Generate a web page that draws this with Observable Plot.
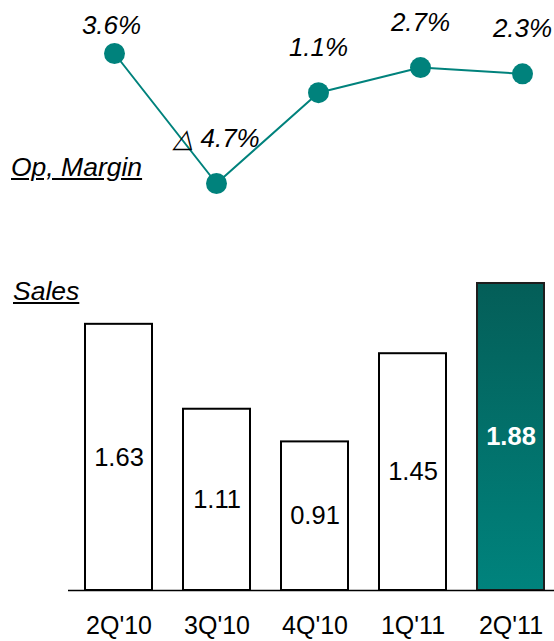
<!DOCTYPE html>
<html><head><meta charset="utf-8">
<script src="https://cdn.jsdelivr.net/npm/d3@7"></script>
<script src="https://cdn.jsdelivr.net/npm/@observablehq/plot@0.6"></script>
<style>
body{margin:0;background:#fff;}
#wrap{position:relative;width:554px;height:641px;overflow:hidden;font-family:"Liberation Sans",Arial,sans-serif;background:#fff;}
#wrap svg{position:absolute;left:0;top:0;}
.ttl{position:absolute;font-style:italic;font-size:26.5px;text-decoration:underline;color:#000;line-height:1;white-space:nowrap;}
</style></head><body>
<div id="wrap">
  <div class="ttl" style="left:11px;top:154px;">Op, Margin</div>
  <div class="ttl" style="left:13px;top:278px;">Sales</div>
</div>
<script>
const quarters = ["2Q'10", "3Q'10", "4Q'10", "1Q'11", "2Q'11"];
const sales = [1.63, 1.11, 0.91, 1.45, 1.88];
const opMargin = [3.6, -4.7, 1.1, 2.7, 2.3];
const highlight = "2Q'11";

const teal = "#00827c";
const font = "'Liberation Sans', Arial, sans-serif";

const salesData = quarters.map((q, i) => ({q, s: sales[i]}));
const marginData = quarters.map((q, i) => ({q, m: opMargin[i]}));
const fmtMargin = d => (d.m < 0 ? "\u25B3 " : "") + Math.abs(d.m).toFixed(1) + "%";

const wrap = document.getElementById("wrap");

// Bar chart (Sales)
const bars = Plot.plot({
  width: 554, height: 641,
  marginLeft: 68, marginRight: 0, marginTop: 0, marginBottom: 51,
  style: {fontFamily: font, fontSize: "25px", background: "transparent", color: "#000", overflow: "visible"},
  x: {domain: quarters, range: [68, 560], paddingInner: 0.32, paddingOuter: 0.16, axis: null},
  y: {domain: [0, 2], range: [590, 590 - 2 * 163.3], axis: null},
  marks: [
    Plot.barY(salesData.filter(d => d.q !== highlight), {x: "q", y: "s", fill: "white", stroke: "#000", strokeWidth: 2}),
    Plot.barY(salesData.filter(d => d.q === highlight), {x: "q", y: "s", fill: "url(#salesgrad)", stroke: "#1e1e1e", strokeWidth: 2}),
    Plot.ruleY([0], {stroke: "#000", strokeWidth: 1.5}),
    Plot.text(salesData.filter(d => d.q !== highlight), {x: "q", y: d => d.s / 2, text: d => d.s.toFixed(2), fontSize: 25.5, fill: "#000"}),
    Plot.text(salesData.filter(d => d.q === highlight), {x: "q", y: d => d.s / 2, text: d => d.s.toFixed(2), fontSize: 25.5, fontWeight: "bold", fill: "white"}),
    Plot.axisX({tickSize: 0, tickPadding: 26, fontSize: 25, label: null})
  ]
});
const defs = d3.select(bars).insert("defs", ":first-child");
const grad = defs.append("linearGradient").attr("id", "salesgrad")
  .attr("x1", 0).attr("y1", 0).attr("x2", 0).attr("y2", 1);
grad.append("stop").attr("offset", "0%").attr("stop-color", "#045e58");
grad.append("stop").attr("offset", "100%").attr("stop-color", "#00837d");
wrap.appendChild(bars);

// Line chart (Op. Margin)
const line = Plot.plot({
  width: 554, height: 200, margin: 0,
  style: {fontFamily: font, fontSize: "25px", background: "transparent", color: "#000"},
  x: {type: "point", domain: quarters, range: [113, 523], padding: 0, axis: null},
  y: {domain: [-4.7, 3.6], range: [183, 53], axis: null},
  marks: [
    Plot.line(marginData, {x: "q", y: "m", stroke: teal, strokeWidth: 2}),
    Plot.dot(marginData, {x: "q", y: "m", r: 10.5, fill: teal, stroke: "none"}),
    Plot.text(marginData.slice(0, 1), {x: "q", y: "m", text: fmtMargin, dy: -28, dx: -3, fontSize: 26, fontStyle: "italic", fill: "#000"}),
    Plot.text(marginData.slice(1), {x: "q", y: "m", text: fmtMargin, dy: -45, fontSize: 26, fontStyle: "italic", fill: "#000"})
  ]
});
wrap.appendChild(line);
</script>
</body></html>
